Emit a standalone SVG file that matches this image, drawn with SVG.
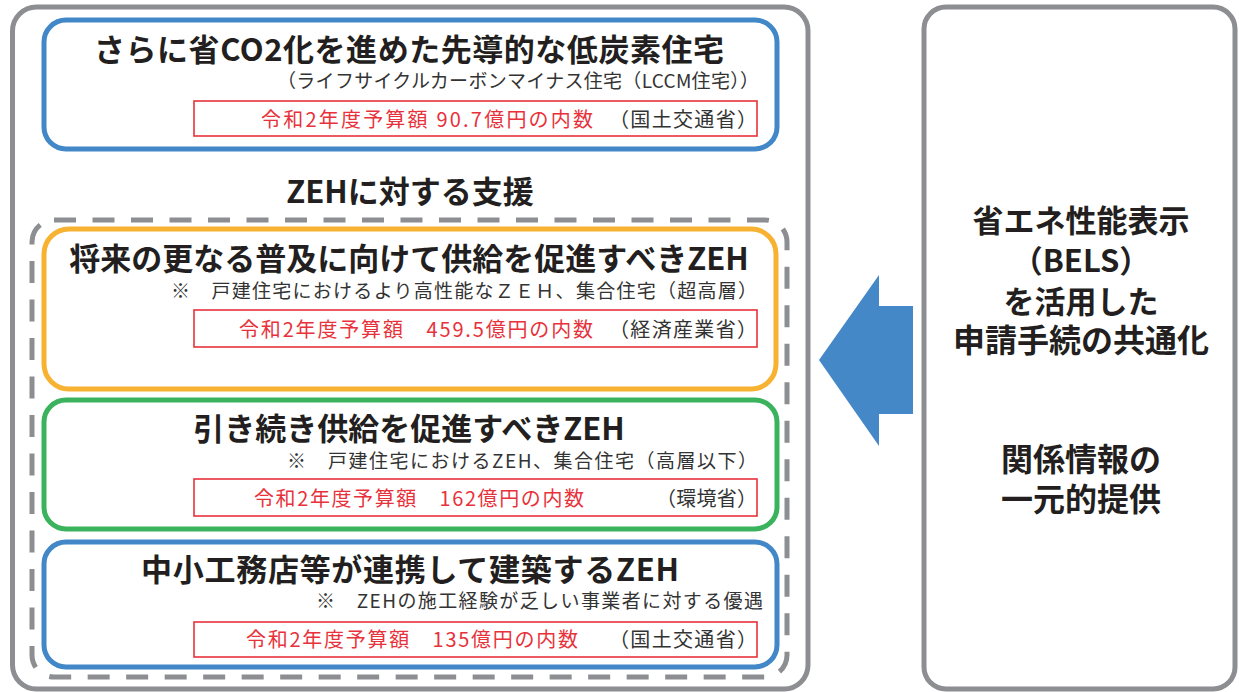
<svg xmlns="http://www.w3.org/2000/svg" width="1239" height="692" viewBox="0 0 1239 692">
<style>
text{font-family:"Noto Sans CJK JP","Noto Sans",sans-serif;fill:#231f20}
.frame{fill:#fff;stroke:#8d8e92;stroke-width:5}
.dash{fill:none;stroke:#8d8e92;stroke-width:5;stroke-dasharray:22 16.5}
.box{fill:#fff;stroke-width:5}
.blue{stroke:#4287c7}
.orange{stroke:#f8b232}
.green{stroke:#3bb35d}
.red{fill:#fff;stroke:#e8323b;stroke-width:1.6}
.title{font-size:31px;font-weight:700;text-anchor:middle}
.titles{font-size:31px;font-weight:700}
.sub{font-size:19px;fill:#333}
.money{font-size:20px;fill:#e8323b}
.min{font-size:20px;fill:#333}
.rt{font-size:31px;font-weight:700;text-anchor:middle}
.rt2{font-size:32px;font-weight:700;text-anchor:middle}
</style>
<g id="left-frame"><rect class="frame" x="12.5" y="7" width="795.5" height="682" rx="24"/></g>
<g id="right-frame">
<rect class="frame" x="924" y="7" width="311" height="682" rx="22"/>
<text class="rt" x="1081" y="232">省エネ性能表示</text>
<text class="rt" x="1081" y="272">（BELS）</text>
<text class="rt" x="1081" y="313">を活用した</text>
<text class="rt2" x="1081" y="352">申請手続の共通化</text>
<text class="rt2" x="1081" y="471">関係情報の</text>
<text class="rt2" x="1081" y="511">一元的提供</text>
</g>
<g id="lccm">
<rect class="box blue" x="44" y="20" width="733" height="129" rx="22"/>
<text class="titles" x="94" y="61" textLength="630">さらに省CO2化を進めた先導的な低炭素住宅</text>
<text class="sub" x="277" y="88" textLength="482">（ライフサイクルカーボンマイナス住宅（LCCM住宅））</text>
<rect class="red" x="194" y="101" width="563" height="35"/>
<text class="money" x="261" y="127" textLength="332">令和2年度予算額 90.7億円の内数</text>
<text class="min" x="609" y="127" textLength="148">（国土交通省）</text>
</g>
<g id="zeh-header"><text class="title" x="410" y="203">ZEHに対する支援</text></g>
<g id="zeh-group"><rect class="dash" x="32" y="220" width="755" height="457" rx="22"/></g>
<g id="zeh1">
<rect class="box orange" x="44" y="229" width="732" height="160" rx="25"/>
<text class="title" x="409" y="270">将来の更なる普及に向けて供給を促進すべきZEH</text>
<text class="sub" x="171" y="298" textLength="586">※　戸建住宅におけるより高性能なＺＥＨ、集合住宅（超高層）</text>
<rect class="red" x="194" y="310" width="563" height="37"/>
<text class="money" x="239" y="337" textLength="354">令和2年度予算額　459.5億円の内数</text>
<text class="min" x="609" y="337" textLength="148">（経済産業省）</text>
</g>
<g id="zeh2">
<rect class="box green" x="44" y="400" width="733" height="129" rx="22"/>
<text class="title" x="409" y="440">引き続き供給を促進すべきZEH</text>
<text class="sub" x="287" y="468" textLength="470">※　戸建住宅におけるZEH、集合住宅（高層以下）</text>
<rect class="red" x="194" y="479" width="563" height="37"/>
<text class="money" x="254" y="506" textLength="330">令和2年度予算額　162億円の内数</text>
<text class="min" x="656" y="506" textLength="101">（環境省）</text>
</g>
<g id="zeh3">
<rect class="box blue" x="44" y="542" width="733" height="125" rx="22"/>
<text class="titles" x="141" y="581" textLength="538">中小工務店等が連携して建築するZEH</text>
<text class="sub" x="316" y="608" textLength="447">※　ZEHの施工経験が乏しい事業者に対する優遇</text>
<rect class="red" x="194" y="622" width="563" height="35"/>
<text class="money" x="246" y="647" textLength="332">令和2年度予算額　135億円の内数</text>
<text class="min" x="609" y="647" textLength="148">（国土交通省）</text>
</g>
<g id="connectors">
<polygon points="819,360 879,275 879,306 913,306 913,414 879,414 879,446" fill="#4488c8"/>
</g>
</svg>
